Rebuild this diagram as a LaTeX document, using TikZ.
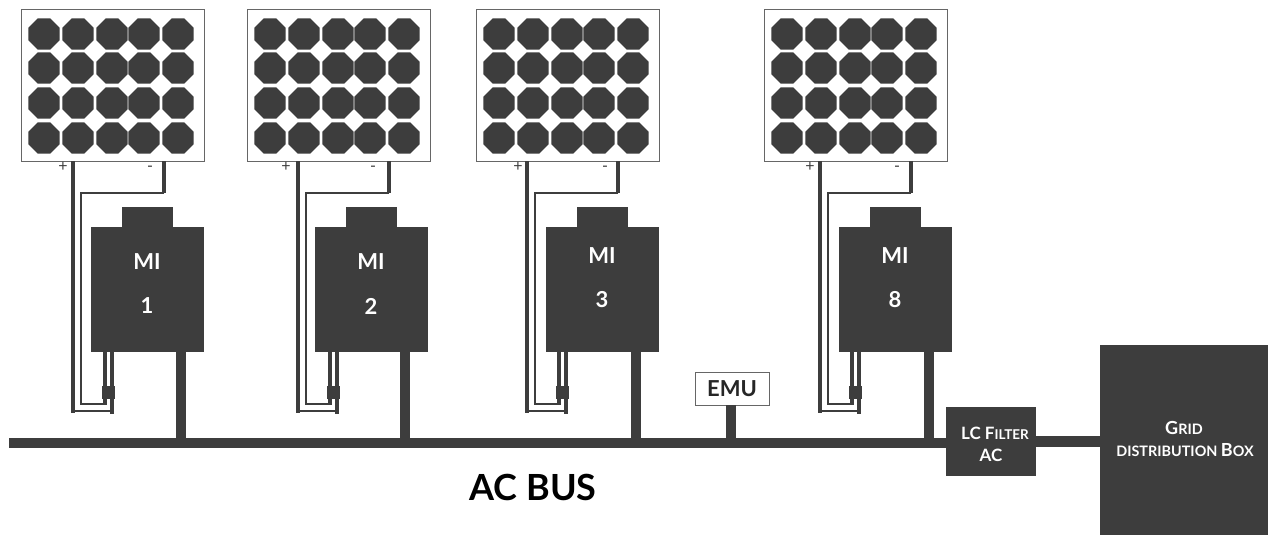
\documentclass[tikz,border=0pt]{standalone}
\usepackage{fontspec}
\setmainfont{Lato}
\usetikzlibrary{shapes.geometric,calc}
\definecolor{dk}{HTML}{3D3D3D}
\tikzset{
  x=1pt,y=-1pt,
  panelbox/.style={draw=black!60,line width=1pt,fill=white,minimum width=183pt,minimum height=151pt,inner sep=0pt,outer sep=0pt},
  cell/.style={regular polygon,regular polygon sides=8,fill=dk,draw=none,minimum size=33.6pt,inner sep=0pt},
  dkbox/.style={fill=dk,draw=none,inner sep=0pt,outer sep=0pt},
  milabel/.style={text=white,font=\fontsize{22}{22}\selectfont\bfseries,inner sep=0pt},
  polarity/.style={text=dk,font=\fontsize{16}{16}\selectfont,inner sep=0pt},
  thickwire/.style={draw=dk,line width=4pt},
  thinwire/.style={draw=dk,line width=2pt},
  acwire/.style={draw=dk,line width=10pt},
  plug/.style={dkbox,minimum height=13pt},
  smalltxt/.style={text=white,align=center,inner sep=0pt,font=\bfseries},
}
\newcommand{\bigc}{\fontsize{17}{17}\selectfont}
\newcommand{\smc}{\fontsize{13.5}{13.5}\selectfont}
\newcommand{\smd}{\fontsize{14.4}{14.4}\selectfont}
\newcommand{\bigd}{\fontsize{18}{18}\selectfont}
\begin{document}
\begin{tikzpicture}
\useasboundingbox (0,0) rectangle (1268,535);
% bus end coordinates and right-hand part
\coordinate (busL) at (9,443);
\node[dkbox,minimum width=90pt,minimum height=69pt] (lc) at (991,441.5) {};
\node[dkbox,minimum width=168pt,minimum height=190pt] (grid) at (1184,440) {};
\draw[acwire] (busL) -- (lc.west |- busL);
\coordinate (lcE) at (lc.east |- 0,441.5);
\draw[draw=dk,line width=11pt] (lcE) -- (lcE -| grid.west);
\node[smalltxt] (lcta) at (995,433) {{\bigc LC F}{\smc ILTER}};
\node[smalltxt] (lctb) at (991,455) {{\bigc AC}};
\node[smalltxt] (gridta) at (1184,428) {{\bigd G}{\smd RID}};
\node[smalltxt] (gridtb) at (1185,450) {{\smd DISTRIBUTION }{\bigd B}{\smd OX}};
% units
\foreach \n/\px/\wx/\mx/\ly/\plx/\lab in {1/0/0/0/262/0/1,2/226/225/224/262/223/2,3/455/454/455/256/455/3,4/743/747/748/256/747/8}{
  \node[panelbox] (panel\n) at (112.5+\px,85.5) {};
  \foreach \cx in {44,78,112,144,178}{
    \foreach \cy in {34,68,103,138}{
      \node[cell] at (\cx+\px,\cy) {};
    }
  }
  \node[dkbox,minimum width=113pt,minimum height=125pt] (mi\n) at (147.5+\mx,289.5) {};
  \node[dkbox,minimum width=51pt,minimum height=20pt] (tab\n) at (147.5+\mx,217) {};
  \node[milabel] (mit\n) at (147+\mx,\ly) {MI};
  \node[milabel] (nut\n) at (147+\mx,\ly+44) {\lab};
  \node[polarity] (plus\n) at (63+\plx,167) {+};
  \node[polarity] (minus\n) at (150+\plx,169) {-};
  % DC wires
  \coordinate (pT\n) at (73+\wx,161);
  \coordinate (pB\n) at (73+\wx,413);
  \coordinate (pR\n) at (112+\wx,411);
  \coordinate (mT\n) at (164+\wx,161);
  \coordinate (mC\n) at (164+\wx,193);
  \coordinate (mL\n) at (80.5+\wx,193);
  \coordinate (mB\n) at (80.5+\wx,404);
  \coordinate (mR\n) at (105+\wx,404);
  \draw[thickwire] (pT\n) -- (pB\n);
  \draw[thinwire] (73+\wx,411) -- (pR\n);
  \draw[thickwire] (112+\wx,352) -- (112+\wx,414);
  \draw[thickwire] (mT\n) -- (mC\n);
  \draw[thinwire] (mC\n) -- (mL\n) -- (mB\n) -- (mR\n);
  \draw[thickwire] (105+\wx,352) -- (105+\wx,405);
  \node[plug,minimum width=5.5pt] (plugA\n) at (105+\wx,392.5) {};
  \node[plug,minimum width=7pt] (plugB\n) at (111.5+\wx,392.5) {};
  % AC wire
  \coordinate (acB\n) at (181+\mx,440);
  \draw[acwire] (acB\n |- mi\n.south) -- (acB\n);
}
% EMU
\node[draw=black!60,line width=1pt,fill=white,minimum width=74pt,minimum height=33pt,inner sep=0pt,outer sep=0pt,text=black!85,font=\fontsize{22}{22}\selectfont\bfseries] (emu) at (732,388.5) {EMU};
\coordinate (emuB) at (731,440);
\draw[acwire] (emu.south -| emuB) -- (emuB);
\node[text=black,font=\fontsize{36}{36}\selectfont\bfseries,inner sep=0pt] (acbus) at (533,487) {AC BUS};
\end{tikzpicture}
\end{document}
